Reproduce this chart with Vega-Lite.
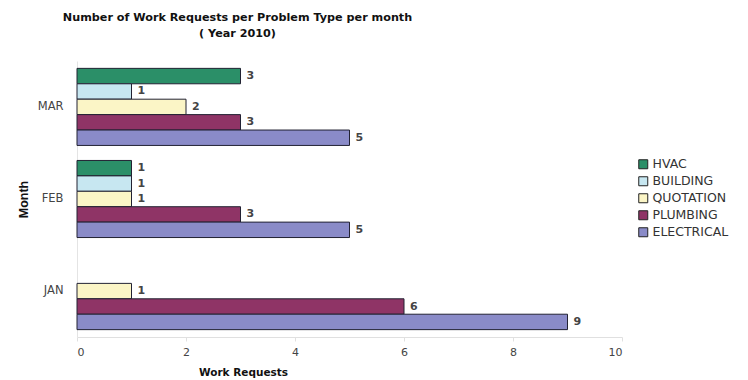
{
  "$schema": "https://vega.github.io/schema/vega-lite/v6.json",
  "width": 545,
  "height": 276,
  "autosize": {"type": "none"},
  "padding": {"left": 77, "top": 61, "right": 126, "bottom": 43},
  "background": "white",
  "view": {"stroke": null},
  "title": {
    "text": ["Number of Work Requests per Problem Type per month", "( Year 2010)"],
    "anchor": "middle",
    "frame": "group",
    "dx": -112,
    "font": "DejaVu Sans",
    "fontSize": 11.2,
    "fontWeight": "bold",
    "color": "#111111",
    "lineHeight": 16,
    "offset": 22
  },
  "data": {
    "values": [
      {"Month": "MAR", "Type": "HVAC", "Requests": 3},
      {"Month": "MAR", "Type": "BUILDING", "Requests": 1},
      {"Month": "MAR", "Type": "QUOTATION", "Requests": 2},
      {"Month": "MAR", "Type": "PLUMBING", "Requests": 3},
      {"Month": "MAR", "Type": "ELECTRICAL", "Requests": 5},
      {"Month": "FEB", "Type": "HVAC", "Requests": 1},
      {"Month": "FEB", "Type": "BUILDING", "Requests": 1},
      {"Month": "FEB", "Type": "QUOTATION", "Requests": 1},
      {"Month": "FEB", "Type": "PLUMBING", "Requests": 3},
      {"Month": "FEB", "Type": "ELECTRICAL", "Requests": 5},
      {"Month": "JAN", "Type": "QUOTATION", "Requests": 1},
      {"Month": "JAN", "Type": "PLUMBING", "Requests": 6},
      {"Month": "JAN", "Type": "ELECTRICAL", "Requests": 9}
    ]
  },
  "encoding": {
    "y": {
      "field": "Month",
      "type": "nominal",
      "sort": ["MAR", "FEB", "JAN"],
      "scale": {"paddingInner": 0.163, "paddingOuter": 0.08},
      "axis": {
        "title": "Month",
        "titleFont": "Liberation Sans",
        "titleFontSize": 12.5,
        "titleFontWeight": "bold",
        "titleColor": "#111111",
        "titlePadding": 7,
        "labelFont": "DejaVu Sans",
        "labelFontSize": 11.5,
        "labelColor": "#444444",
        "labelPadding": 14,
        "ticks": false,
        "domainColor": "#e4e4e4",
        "grid": false
      }
    },
    "yOffset": {
      "field": "Type",
      "type": "nominal",
      "scale": {"domain": ["HVAC", "BUILDING", "QUOTATION", "PLUMBING", "ELECTRICAL"], "paddingInner": 0, "paddingOuter": 0}
    },
    "x": {
      "field": "Requests",
      "type": "quantitative",
      "scale": {"domain": [0, 10]},
      "axis": {
        "title": "Work Requests",
        "titleFont": "DejaVu Sans",
        "titleFontSize": 10.5,
        "titleFontWeight": "bold",
        "titleColor": "#111111",
        "titleX": 166,
        "titleY": 38,
        "titleAlign": "center",
        "titleBaseline": "alphabetic",
        "values": [0, 2, 4, 6, 8, 10],
        "labelFont": "DejaVu Sans",
        "labelFontSize": 11,
        "labelColor": "#444444",
        "labelPadding": 5,
        "tickSize": 4,
        "tickColor": "#e0e0e0",
        "domainColor": "#e0e0e0",
        "grid": false
      }
    }
  },
  "layer": [
    {
      "mark": {"type": "bar", "stroke": "#222233", "strokeWidth": 1},
      "encoding": {
        "color": {
          "field": "Type",
          "type": "nominal",
          "scale": {
            "domain": ["HVAC", "BUILDING", "QUOTATION", "PLUMBING", "ELECTRICAL"],
            "range": ["#2b8f68", "#c7e7f1", "#fbf5c6", "#8f3466", "#8a8bc8"]
          },
          "legend": {
            "title": null,
            "orient": "none",
            "legendX": 560,
            "legendY": 97,
            "symbolType": "square",
            "symbolSize": 81,
            "symbolStrokeColor": "#222222",
            "symbolStrokeWidth": 1,
            "symbolOpacity": 1,
            "labelFont": "DejaVu Sans",
            "labelFontSize": 12.5,
            "labelColor": "#333333",
            "labelOffset": 3,
            "rowPadding": 3,
            "labelLimit": 200
          }
        }
      }
    },
    {
      "mark": {"type": "text", "align": "left", "baseline": "middle", "dx": 6, "font": "DejaVu Sans", "fontSize": 11, "fontWeight": "bold", "color": "#444444"},
      "encoding": {
        "text": {"field": "Requests", "type": "quantitative"}
      }
    }
  ]
}
